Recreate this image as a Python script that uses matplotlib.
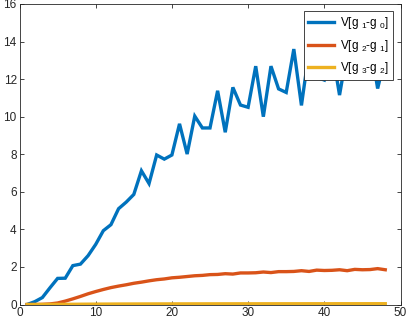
import matplotlib
matplotlib.use("Agg")
import matplotlib.pyplot as plt

plt.rcParams['font.family'] = ['Liberation Sans', 'DejaVu Sans']
plt.rcParams['mathtext.fontset'] = 'custom'
plt.rcParams['mathtext.rm'] = 'Liberation Sans'
plt.rcParams['mathtext.it'] = 'Liberation Sans'

x = list(range(1, 49))

v10 = [0.00, 0.15, 0.37, 0.89, 1.39, 1.40, 2.07, 2.15, 2.60, 3.20,
       3.93, 4.25, 5.10, 5.45, 5.86, 7.12, 6.44, 7.96, 7.74, 7.96,
       9.62, 8.01, 10.03, 9.40, 9.40, 11.38, 9.17, 11.56, 10.62, 10.50,
       12.69, 10.00, 12.69, 11.48, 11.29, 13.60, 10.60, 13.50, 12.10, 11.95,
       13.60, 11.15, 13.50, 13.10, 12.50, 14.00, 11.50, 13.20]

v21 = [0.00, 0.00, 0.01, 0.03, 0.08, 0.18, 0.30, 0.43, 0.57, 0.69,
       0.80, 0.90, 0.98, 1.05, 1.13, 1.19, 1.26, 1.32, 1.36, 1.42,
       1.45, 1.49, 1.53, 1.55, 1.59, 1.60, 1.64, 1.62, 1.68, 1.68,
       1.69, 1.73, 1.70, 1.75, 1.75, 1.76, 1.80, 1.76, 1.83, 1.81,
       1.82, 1.85, 1.80, 1.87, 1.85, 1.86, 1.91, 1.85]

v32 = [0.000, 0.001, 0.002, 0.004, 0.006, 0.009, 0.012, 0.015, 0.018, 0.020,
       0.022, 0.024, 0.026, 0.027, 0.028, 0.029, 0.030, 0.031, 0.032, 0.033,
       0.034, 0.034, 0.035, 0.035, 0.036, 0.036, 0.037, 0.037, 0.038, 0.038,
       0.038, 0.039, 0.039, 0.039, 0.040, 0.040, 0.040, 0.041, 0.041, 0.041,
       0.041, 0.042, 0.042, 0.042, 0.042, 0.043, 0.043, 0.043]

labels = ['V[g $_{1}$-g $_{0}$]', 'V[g $_{2}$-g $_{1}$]', 'V[g $_{3}$-g $_{2}$]']
colors = ['#0072BD', '#D95319', '#EDB120']

xticks = [0, 10, 20, 30, 40, 50]
yticks = [0, 2, 4, 6, 8, 10, 12, 14, 16]

fig = plt.figure(figsize=(4.07, 3.23), dpi=100)
ax = fig.add_axes([19.5/407, (323-304.5)/323, (400.5-19.5)/407, (304.5-4)/323])

for vals, lab, c in zip([v10, v21, v32], labels, colors):
    ax.plot(x, vals, color=c, lw=2.4, label=lab, solid_joinstyle='miter')

ax.set_xlim(0, 50)
ax.set_ylim(0, 16)
ax.set_xticks(xticks)
ax.set_yticks(yticks)

dark = '#262626'
for s in ax.spines.values():
    s.set_color(dark)
    s.set_linewidth(0.6)
ax.tick_params(direction='in', length=3, width=0.6, colors=dark, labelsize=8.5,
               top=True, right=True, labeltop=False, labelright=False, pad=2)
for t in ax.get_xticklabels() + ax.get_yticklabels():
    t.set_color(dark)

leg = ax.legend(loc='upper right', fontsize=8.5, frameon=True, fancybox=False,
                edgecolor=dark, framealpha=1, handlelength=2.2, handletextpad=0.5,
                labelspacing=0.55, borderpad=0.35, borderaxespad=0.6)
leg.get_frame().set_linewidth(0.6)

fig.savefig('out.png', dpi=100)
